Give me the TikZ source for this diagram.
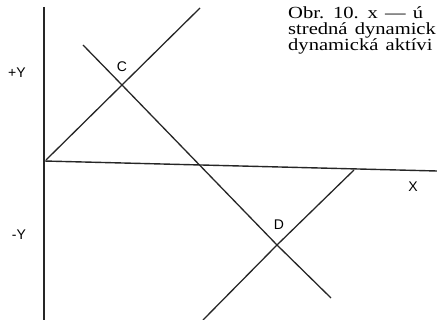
\documentclass[tikz,border=0pt]{standalone}
\usepackage{fontspec}
\setmainfont{Liberation Serif}
\newfontfamily\labfont{Liberation Sans}
\newfontfamily\capfont[FakeStretch=1.21,WordSpace=1.4]{Liberation Serif}
\begin{document}
\begin{tikzpicture}[x=1pt,y=-1pt,
  axis/.style={line width=1.4pt,black!85},
  lin/.style={line width=1.3pt,black!85},
  lab/.style={font=\labfont\fontsize{14}{14}\selectfont,inner sep=0pt},
  captext/.style={font=\capfont\fontsize{17}{17}\selectfont,inner sep=0pt,anchor=base west}]
\useasboundingbox (0,0) rectangle (437,320);
% axes
\coordinate (ytop) at (44,7);
\coordinate (ybot) at (44,320);
\coordinate (xl) at (44,161);
\coordinate (xr) at (437,171);
\draw[axis] (ytop) -- (ybot);
\draw[axis] (xl) -- (xr);
% lines
\coordinate (C) at (122,85);
\coordinate (D) at (277,245);
\coordinate (a1) at (46,160);
\coordinate (a2) at (200,8);
\coordinate (b1) at (83,45);
\coordinate (b2) at (331,298);
\coordinate (c1) at (203,320);
\coordinate (c2) at (354,170);
\draw[lin] (a1) -- (C) -- (a2);
\draw[lin] (b1) -- (C) -- (D) -- (b2);
\draw[lin] (c1) -- (D) -- (c2);
% labels
\node[lab] (lpy) at (17,73) {+Y};
\node[lab] (lmy) at (19,235) {-Y};
\node[lab] (lc) at (122,67) {C};
\node[lab] (ld) at (279,225) {D};
\node[lab] (lx) at (413,187) {X};
% caption
\node[captext] (t1) at (288,19) {Obr. 10. x — ú};
\node[captext] (t2) at (288,35) {stredná dynamick};
\node[captext] (t3) at (288,51) {dynamická aktívi};
\end{tikzpicture}
\end{document}
